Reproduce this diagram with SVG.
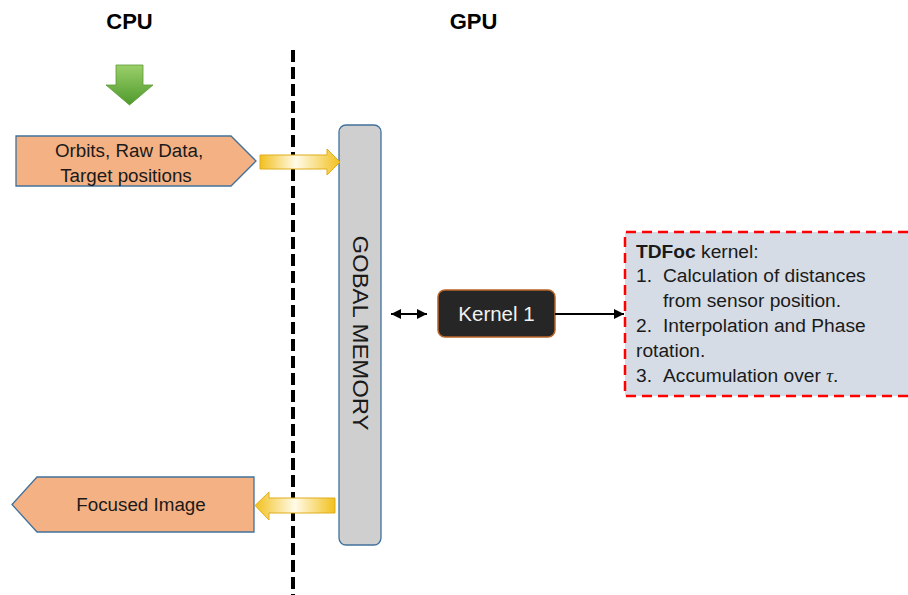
<svg xmlns="http://www.w3.org/2000/svg" width="908" height="595" viewBox="0 0 908 595">
  <defs>
    <linearGradient id="greenGrad" x1="0" y1="0" x2="0" y2="1">
      <stop offset="0" stop-color="#9bcf6a"/>
      <stop offset="1" stop-color="#4f9a2c"/>
    </linearGradient>
    <linearGradient id="yellowRight" x1="0" y1="0" x2="1" y2="0">
      <stop offset="0" stop-color="#f2c01e"/>
      <stop offset="0.45" stop-color="#fffbe8"/>
      <stop offset="1" stop-color="#f2c01e"/>
    </linearGradient>
    <linearGradient id="yellowLeft" x1="0" y1="0" x2="1" y2="0">
      <stop offset="0" stop-color="#f2c01e"/>
      <stop offset="0.5" stop-color="#fffbe8"/>
      <stop offset="1" stop-color="#f2c01e"/>
    </linearGradient>
    <marker id="arrowEnd" viewBox="0 0 10 10" refX="10" refY="5" markerWidth="5" markerHeight="5" orient="auto">
      <path d="M0,0 L10,5 L0,10 z" fill="#000"/>
    </marker>
    <marker id="arrowStart" viewBox="0 0 10 10" refX="0" refY="5" markerWidth="5" markerHeight="5" orient="auto">
      <path d="M10,0 L0,5 L10,10 z" fill="#000"/>
    </marker>
  </defs>
  <style>
    text { font-family: "Liberation Sans", Arial, sans-serif; fill: #1a1a1a; }
    .head { font-size: 22px; font-weight: bold; fill: #000; }
    .io { fill: #f4b183; stroke: #41719c; stroke-width: 1.3; }
    .io-text { font-size: 18.8px; text-anchor: middle; }
    .flow { stroke: #e0ad1a; stroke-width: 1; }
    .conn { stroke: #000; stroke-width: 2; fill: none; }
    .note { font-size: 19.2px; }
  </style>

  <rect width="908" height="595" fill="#ffffff"/>

  <!-- column headings -->
  <text class="head" x="129.5" y="29" text-anchor="middle">CPU</text>
  <text class="head" x="473.5" y="29" text-anchor="middle">GPU</text>

  <!-- host / device boundary -->
  <line x1="293" y1="50" x2="293" y2="595" stroke="#000" stroke-width="4" stroke-dasharray="12,5"/>

  <!-- start marker -->
  <g id="start-arrow">
    <path d="M116,65 H143 V85 H153 L129.5,105 L106,85 H116 Z" fill="url(#greenGrad)" stroke="#5a9a35" stroke-width="0.8"/>
  </g>

  <!-- input data -->
  <g id="input-data">
    <path class="io" d="M16,136 H231 L256,161 L231,186 H16 Z"/>
    <text class="io-text" x="129" y="157">Orbits, Raw Data,</text>
    <text class="io-text" x="126" y="182">Target positions</text>
  </g>

  <!-- output image -->
  <g id="focused-image">
    <path class="io" d="M37,477 H254 V532 H37 L12,504.5 Z"/>
    <text class="io-text" x="141" y="511">Focused Image</text>
  </g>

  <!-- device memory -->
  <g id="global-memory">
    <rect x="339" y="125" width="42" height="420" rx="7" fill="#d0cfd0" stroke="#41719c" stroke-width="1.3"/>
    <text x="360" y="333" font-size="22" text-anchor="middle" textLength="195" lengthAdjust="spacingAndGlyphs" transform="rotate(90 360 333)" dominant-baseline="central">GOBAL MEMORY</text>
  </g>

  <!-- kernel -->
  <g id="kernel-1">
    <rect x="438" y="290" width="117" height="47" rx="7" fill="#262626" stroke="#b8662a" stroke-width="1.5"/>
    <text x="496.5" y="321" font-size="20.5" text-anchor="middle" style="fill:#f2f2f2">Kernel 1</text>
  </g>

  <!-- kernel description -->
  <g id="tdfoc-note">
    <path d="M908,232 H625 V396 H908" fill="#d6dce5" stroke="#ff0000" stroke-width="2.5" stroke-dasharray="10,6"/>
    <text class="note" x="636" y="258"><tspan font-weight="bold">TDFoc</tspan> kernel:</text>
    <text class="note" x="636" y="282">1.</text>
    <text class="note" x="663" y="282">Calculation of distances</text>
    <text class="note" x="663" y="307">from sensor position.</text>
    <text class="note" x="636" y="332">2.</text>
    <text class="note" x="663" y="332">Interpolation and Phase</text>
    <text class="note" x="636" y="357">rotation.</text>
    <text class="note" x="636" y="382">3.</text>
    <text class="note" x="663" y="382">Accumulation over <tspan font-family="'Liberation Serif', serif" font-style="italic">τ</tspan>.</text>
  </g>

  <!-- connectors -->
  <g id="connectors">
    <path class="flow" d="M260,155 H327 V149 L340,162 L327,175 V169 H260 Z" fill="url(#yellowRight)"/>
    <path class="flow" d="M335,498 H269 V492 L255,505.5 L269,520 V513 H335 Z" fill="url(#yellowLeft)"/>
    <line class="conn" x1="391" y1="314" x2="427" y2="314" marker-start="url(#arrowStart)" marker-end="url(#arrowEnd)"/>
    <line class="conn" x1="555" y1="314" x2="624" y2="314" marker-end="url(#arrowEnd)"/>
  </g>
</svg>
